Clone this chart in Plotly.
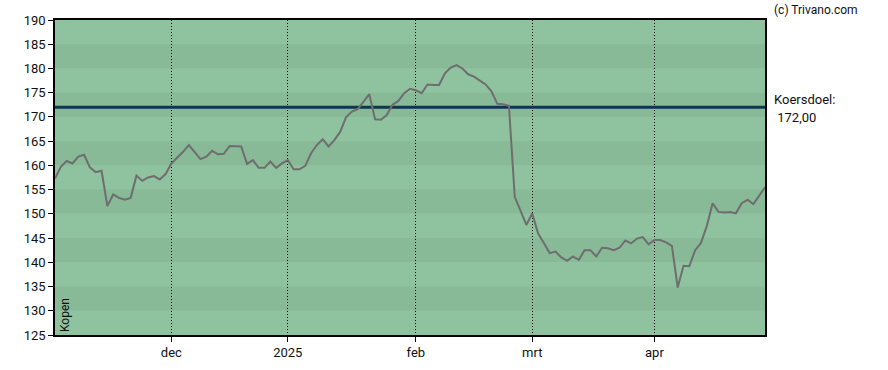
import plotly.graph_objects as go

# Closing prices per trading day (Nov 2024 - Apr 2025)
prices = [
    157.3, 159.7, 160.9, 160.4, 161.8, 162.2, 159.6, 158.6, 158.9, 151.6,
    154.0, 153.3, 152.9, 153.3, 157.9, 156.8, 157.5, 157.8, 157.1, 158.2,
    160.4, 161.5, 162.8, 164.2, 162.8, 161.3, 161.8, 163.0, 162.3, 162.4,
    164.0, 163.9, 163.9, 160.3, 161.1, 159.5, 159.5, 160.8, 159.5, 160.4,
    161.1, 159.2, 159.2, 159.9, 162.5, 164.2, 165.4, 163.9, 165.2, 166.9,
    169.9, 171.1, 171.6, 173.1, 174.7, 169.5, 169.4, 170.4, 172.5, 173.3,
    174.9, 175.8, 175.5, 174.9, 176.7, 176.6, 176.6, 179.0, 180.2, 180.7,
    180.0, 178.8, 178.3, 177.5, 176.7, 175.3, 172.7, 172.6, 172.3, 153.5,
    150.4, 147.7, 150.1, 146.0, 144.0, 141.9, 142.2, 141.0, 140.3, 141.2,
    140.5, 142.5, 142.5, 141.2, 143.0, 142.9, 142.5, 143.0, 144.5, 143.9,
    144.9, 145.2, 143.7, 144.6, 144.6, 144.1, 143.4, 134.8, 139.3, 139.2,
    142.5, 144.0, 147.5, 152.2, 150.4, 150.3, 150.4, 150.1, 152.2, 152.9,
    152.0, 153.7, 155.5,
]
day_index = list(range(len(prices)))

# Month starts (trading-day index) and labels
month_tick_index = [20, 40, 62, 82, 103]
month_tick_labels = ["dec", "2025", "feb", "mrt", "apr"]

target_price = 172.0
target_label = "Koersdoel:"
target_text = " 172,00"
advice_text = "Kopen"
copyright_text = "(c) Trivano.com"

y_min, y_max, y_step = 125, 190, 5

fig = go.Figure()

# Alternating background bands
shapes = []
band_colors = ["#8FC3A0", "#88BA98"]
k = 0
v = y_max
while v > y_min:
    shapes.append(dict(type="rect", xref="paper", yref="y", x0=0, x1=1,
                       y0=v - y_step, y1=v, fillcolor=band_colors[k % 2],
                       line=dict(width=0), layer="below"))
    v -= y_step
    k += 1

fig.add_trace(go.Scatter(x=[day_index[0], day_index[-1]], y=[target_price, target_price],
                         mode="lines", line=dict(color="#0F3552", width=3),
                         hoverinfo="skip", showlegend=False))
fig.add_trace(go.Scatter(x=day_index, y=prices, mode="lines",
                         line=dict(color="#6E6E6E", width=2),
                         showlegend=False))

font_family = "Roboto, Arial, sans-serif"
fig.update_layout(
    width=888, height=370,
    autosize=False,
    margin=dict(l=55, r=123, t=20, b=35, pad=0),
    paper_bgcolor="white",
    plot_bgcolor="#8FC3A0",
    shapes=shapes,
    font=dict(family=font_family, size=13, color="#111111"),
    xaxis=dict(range=[day_index[0], day_index[-1]], tickmode="array",
               tickvals=month_tick_index, ticktext=month_tick_labels,
               showgrid=True, gridcolor="#000000", griddash="1px,2px", gridwidth=1,
               ticks="outside", ticklen=5, tickcolor="#000000",
               showline=True, linecolor="#000000", linewidth=1.5, mirror=True,
               zeroline=False, fixedrange=True, automargin=False),
    yaxis=dict(range=[y_min, y_max], tickmode="linear", tick0=y_min, dtick=y_step,
               showgrid=False, ticks="outside", ticklen=5, tickcolor="#000000",
               showline=True, linecolor="#000000", linewidth=1.5, mirror=True,
               zeroline=False, fixedrange=True, automargin=False),
    annotations=[
        dict(text=copyright_text, xref="paper", yref="paper", x=1, y=1,
             xanchor="left", yanchor="bottom", xshift=7, yshift=1, showarrow=False,
             font=dict(size=12, color="#111111")),
        dict(text=target_label, xref="paper", yref="y", x=1, y=target_price,
             xanchor="left", yanchor="middle", xshift=7, yshift=8, showarrow=False,
             font=dict(size=13, color="#111111")),
        dict(text=target_text, xref="paper", yref="y", x=1, y=target_price,
             xanchor="left", yanchor="middle", xshift=7, yshift=-10, showarrow=False,
             font=dict(size=13, color="#111111")),
        dict(text=advice_text, xref="paper", yref="paper", x=0, y=0,
             xanchor="left", yanchor="bottom", xshift=1, yshift=1, textangle=-90,
             showarrow=False, font=dict(size=12, color="#111111")),
    ],
)

fig.write_html("out.html",
               config={"displayModeBar": False},
               post_script="document.body.style.margin='0';document.body.style.overflow='hidden';")
